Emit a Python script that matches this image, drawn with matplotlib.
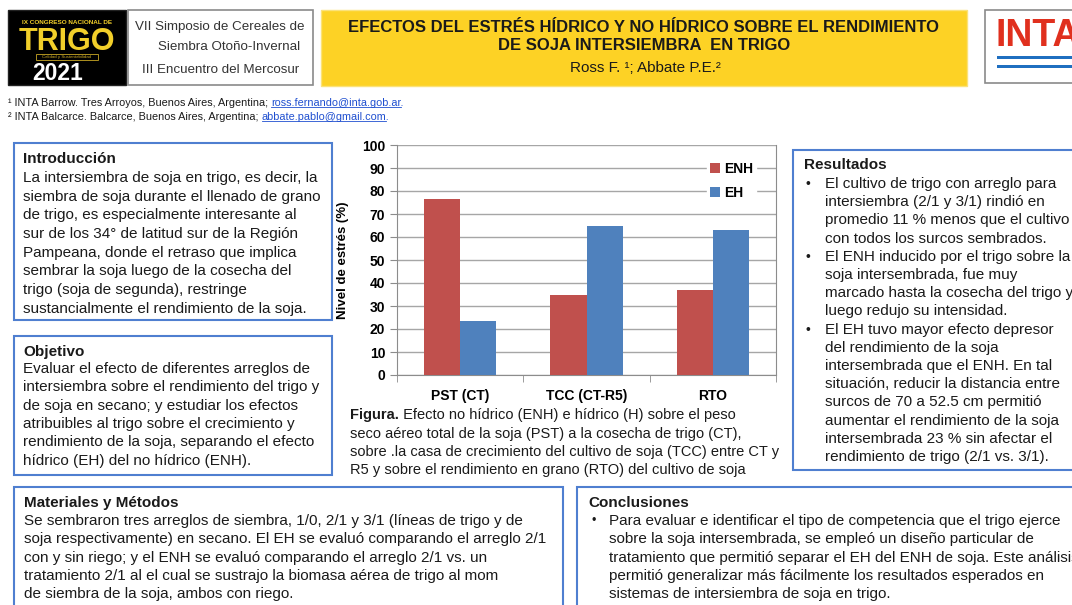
import matplotlib
matplotlib.use("Agg")
import matplotlib.pyplot as plt
from matplotlib.patches import Rectangle
import numpy as np

# chart data
categorias = ["PST (CT)", "TCC (CT-R5)", "RTO"]
enh = [76.5, 35.0, 37.0]
eh = [23.5, 65.0, 63.0]
series = ["ENH", "EH"]

intro = ["La intersiembra de soja en trigo, es decir, la",
         "siembra de soja durante el llenado de grano",
         "de trigo, es especialmente interesante al",
         "sur de los 34° de latitud sur de la Región",
         "Pampeana, donde el retraso que implica",
         "sembrar la soja luego de la cosecha del",
         "trigo (soja de segunda), restringe",
         "sustancialmente el rendimiento de la soja."]

objetivo = ["Evaluar el efecto de diferentes arreglos de",
            "intersiembra sobre el rendimiento del trigo y",
            "de soja en secano; y estudiar los efectos",
            "atribuibles al trigo sobre el crecimiento y",
            "rendimiento de la soja, separando el efecto",
            "hídrico (EH) del no hídrico (ENH)."]

resultados = [["El cultivo de trigo con arreglo para",
               "intersiembra (2/1 y 3/1) rindió en",
               "promedio 11 % menos que el cultivo",
               "con todos los surcos sembrados."],
              ["El ENH inducido por el trigo sobre la",
               "soja intersembrada, fue muy",
               "marcado hasta la cosecha del trigo y",
               "luego redujo su intensidad."],
              ["El EH tuvo mayor efecto depresor",
               "del rendimiento de la soja",
               "intersembrada que el ENH. En tal",
               "situación, reducir la distancia entre",
               "surcos de 70 a 52.5 cm permitió",
               "aumentar el rendimiento de la soja",
               "intersembrada 23 % sin afectar el",
               "rendimiento de trigo (2/1 vs. 3/1)."]]

materiales = ["Se sembraron tres arreglos de siembra, 1/0, 2/1 y 3/1 (líneas de trigo y de",
              "soja respectivamente) en secano. El EH se evaluó comparando el arreglo 2/1",
              "con y sin riego; y el ENH se evaluó comparando el arreglo 2/1 vs. un",
              "tratamiento 2/1 al el cual se sustrajo la biomasa aérea de trigo al mom",
              "de siembra de la soja, ambos con riego."]

conclusiones = ["Para evaluar e identificar el tipo de competencia que el trigo ejerce",
                "sobre la soja intersembrada, se empleó un diseño particular de",
                "tratamiento que permitió separar el EH del ENH de soja. Este análisis",
                "permitió generalizar más fácilmente los resultados esperados en",
                "sistemas de intersiembra de soja en trigo."]

caption = [" Efecto no hídrico (ENH) e hídrico (H) sobre el peso",
           "seco aéreo total de la soja (PST) a la cosecha de trigo (CT),",
           "sobre .la casa de crecimiento del cultivo de soja (TCC) entre CT y",
           "R5 y sobre el rendimiento en grano (RTO) del cultivo de soja"]

SANS = ["Liberation Sans", "DejaVu Sans"]
BLUE_BOX = "#4f7fd0"
TXT = "#1a1a1a"

W, H = 1072, 605
fig = plt.figure(figsize=(W / 100, H / 100), dpi=100)
bg = fig.add_axes([0, 0, 1, 1])
bg.set_xlim(0, W)
bg.set_ylim(H, 0)
bg.axis("off")


def box(x0, y0, x1, y1, ec, fc="white", lw=1.5):
    bg.add_patch(Rectangle((x0, y0), x1 - x0, y1 - y0, fc=fc, ec=ec, lw=lw))


def lines(x, y0, step, rows, size, **kw):
    for i, r in enumerate(rows):
        bg.text(x, y0 + i * step, r, fontsize=size, family=SANS,
                va="center", color=TXT, **kw)


# ---- header ----
box(8, 10, 126, 85, ec="#222222", fc="black", lw=1)
bg.text(67, 22, "IX CONGRESO NACIONAL DE", color="#f2cf2a", fontsize=4.6,
        ha="center", va="center", family=SANS, weight="bold")
bg.text(67, 42, "TRIGO", color="#f2cf2a", fontsize=22, ha="center",
        va="center", family=SANS, weight="bold")
bg.add_patch(Rectangle((36, 54), 62, 6, fc="none", ec="#c9a825", lw=0.6))
bg.text(67, 57, "Calidad y Sustentabilidad", color="#c9a825", fontsize=3.2,
        ha="center", va="center", family=SANS)
bg.text(58, 73, "2021", color="white", fontsize=16.5, ha="center",
        va="center", family=SANS, weight="bold")

box(128, 10, 313, 85, ec="#8a8a8a", lw=1.2)
bg.text(220, 27, "VII Simposio de Cereales de", fontsize=9.6, family=SANS,
        ha="center", va="center", color="#333333")
bg.text(229, 47, "Siembra Otoño-Invernal", fontsize=9.6, family=SANS,
        ha="center", va="center", color="#333333")
bg.text(221, 70, "III Encuentro del Mercosur", fontsize=9.6, family=SANS,
        ha="center", va="center", color="#333333")

box(321, 10, 967, 86, ec="#fbe27a", fc="#fdd225", lw=1)
bg.text(644, 27, "EFECTOS DEL ESTRÉS HÍDRICO Y NO HÍDRICO SOBRE EL RENDIMIENTO",
        fontsize=12, weight="bold", family=SANS, ha="center", va="center", color=TXT)
bg.text(644, 46, "DE SOJA INTERSIEMBRA  EN TRIGO", fontsize=12, weight="bold",
        family=SANS, ha="center", va="center", color=TXT)
bg.text(645, 68, "Ross F. ¹; Abbate P.E.²", fontsize=11, family=SANS,
        ha="center", va="center", color=TXT)

box(985, 10, 1090, 83, ec="#8a8a8a", lw=1.2)
bg.text(995, 36, "INTA", color="#e0301e", fontsize=27, weight="bold",
        family=SANS, ha="left", va="center")
bg.add_patch(Rectangle((997, 55.5), 80, 3.5, fc="#1f6fc0", ec="none"))
bg.add_patch(Rectangle((997, 64.5), 80, 3.5, fc="#1f6fc0", ec="none"))

# footnotes with underlined e-mails
notes = [("¹ INTA Barrow. Tres Arroyos, Buenos Aires, Argentina; ", "ross.fernando@inta.gob.ar."),
         ("² INTA Balcarce. Balcarce, Buenos Aires, Argentina; ", "abbate.pablo@gmail.com.")]
mails = []
for i, (a, b) in enumerate(notes):
    t = bg.text(8, 103 + i * 14, a, fontsize=7.8, family=SANS, va="center", color=TXT)
    m = bg.annotate(b, xy=(1, 0.5), xycoords=t, va="center", fontsize=7.8,
                    family=SANS, color="#1f4fd0")
    mails.append(m)

# ---- text boxes ----
box(14, 143, 332, 320, ec=BLUE_BOX)
bg.text(23, 159, "Introducción", fontsize=11, weight="bold", family=SANS,
        va="center", color=TXT)
lines(23, 178, 18.7, intro, 11)

box(14, 336, 332, 475, ec=BLUE_BOX)
bg.text(23, 352, "Objetivo", fontsize=11, weight="bold", family=SANS,
        va="center", color=TXT)
lines(23, 369, 18.3, objetivo, 11)

box(793, 150, 1090, 470, ec=BLUE_BOX)
bg.text(804, 165, "Resultados", fontsize=11, weight="bold", family=SANS,
        va="center", color=TXT)
y = 184
for item in resultados:
    bg.text(806, y, "•", fontsize=10, family=SANS, va="center", color=TXT)
    lines(825, y, 18.2, item, 11)
    y += 18.2 * len(item)

box(14, 487, 563, 620, ec=BLUE_BOX)
bg.text(24, 503, "Materiales y Métodos", fontsize=11, weight="bold",
        family=SANS, va="center", color=TXT)
lines(24, 521, 18.3, materiales, 11)

box(577, 487, 1090, 620, ec=BLUE_BOX)
bg.text(588, 503, "Conclusiones", fontsize=11, weight="bold", family=SANS,
        va="center", color=TXT)
bg.text(592, 521, "•", fontsize=9, family=SANS, va="center", color=TXT)
lines(609, 521, 18.3, conclusiones, 11)

# caption under chart
f = bg.text(350, 415, "Figura.", fontsize=10.5, weight="bold", family=SANS,
            va="center", color=TXT)
bg.annotate(caption[0], xy=(1, 0.5), xycoords=f, va="center", fontsize=10.5,
            family=SANS, color=TXT)
lines(350, 434, 18.2, caption[1:], 10.5)

# ---- chart ----
ax = fig.add_axes([397 / W, 1 - 375 / H, 379 / W, 230 / H])
x = np.arange(len(categorias))
bw = 0.285
ax.bar(x - bw / 2, enh, bw, color="#c0504d", label=series[0], zorder=3)
ax.bar(x + bw / 2, eh, bw, color="#4f81bd", label=series[1], zorder=3)
ax.set_xlim(-0.5, 2.5)
ax.set_ylim(0, 100)
ax.set_yticks(range(0, 101, 10))
ax.yaxis.grid(True, color="#a6a6a6", lw=1, zorder=0)
for s in ["left", "bottom", "right"]:
    ax.spines[s].set_color("#8c8c8c")
ax.spines["top"].set_visible(False)
ax.set_xticks(x)
ax.set_xticklabels(categorias)
ax.set_xticks([-0.5, 0.5, 1.5, 2.5], minor=True)
ax.tick_params(axis="x", which="major", length=0, pad=10)
ax.tick_params(axis="x", which="minor", length=5, color="#8c8c8c")
ax.tick_params(axis="y", length=5, color="#8c8c8c")
for lab in ax.get_xticklabels() + ax.get_yticklabels():
    lab.set_fontweight("bold")
    lab.set_fontsize(10)
    lab.set_family(SANS)
ax.set_ylabel("Nivel de estrés (%)", fontsize=9.5, weight="bold", family=SANS,
              labelpad=9)
leg = ax.legend(loc="upper left", bbox_to_anchor=(0.8, 0.97), frameon=True,
                fancybox=False, edgecolor="white", framealpha=1,
                handlelength=0.7, handleheight=0.7, handletextpad=0.3,
                labelspacing=0.75, borderpad=0.2,
                prop={"weight": "bold", "size": 10, "family": SANS})
leg.set_zorder(5)

# underline the e-mails
fig.canvas.draw()
inv = bg.transData.inverted()
for m in mails:
    bb = m.get_window_extent()
    (x0, y0), (x1, y1) = inv.transform([[bb.x0, bb.y0], [bb.x1, bb.y1]])
    bg.plot([x0, x1 - 3], [y0 - 1, y0 - 1], color="#1f4fd0", lw=0.6)

fig.savefig("out.png", dpi=100)
